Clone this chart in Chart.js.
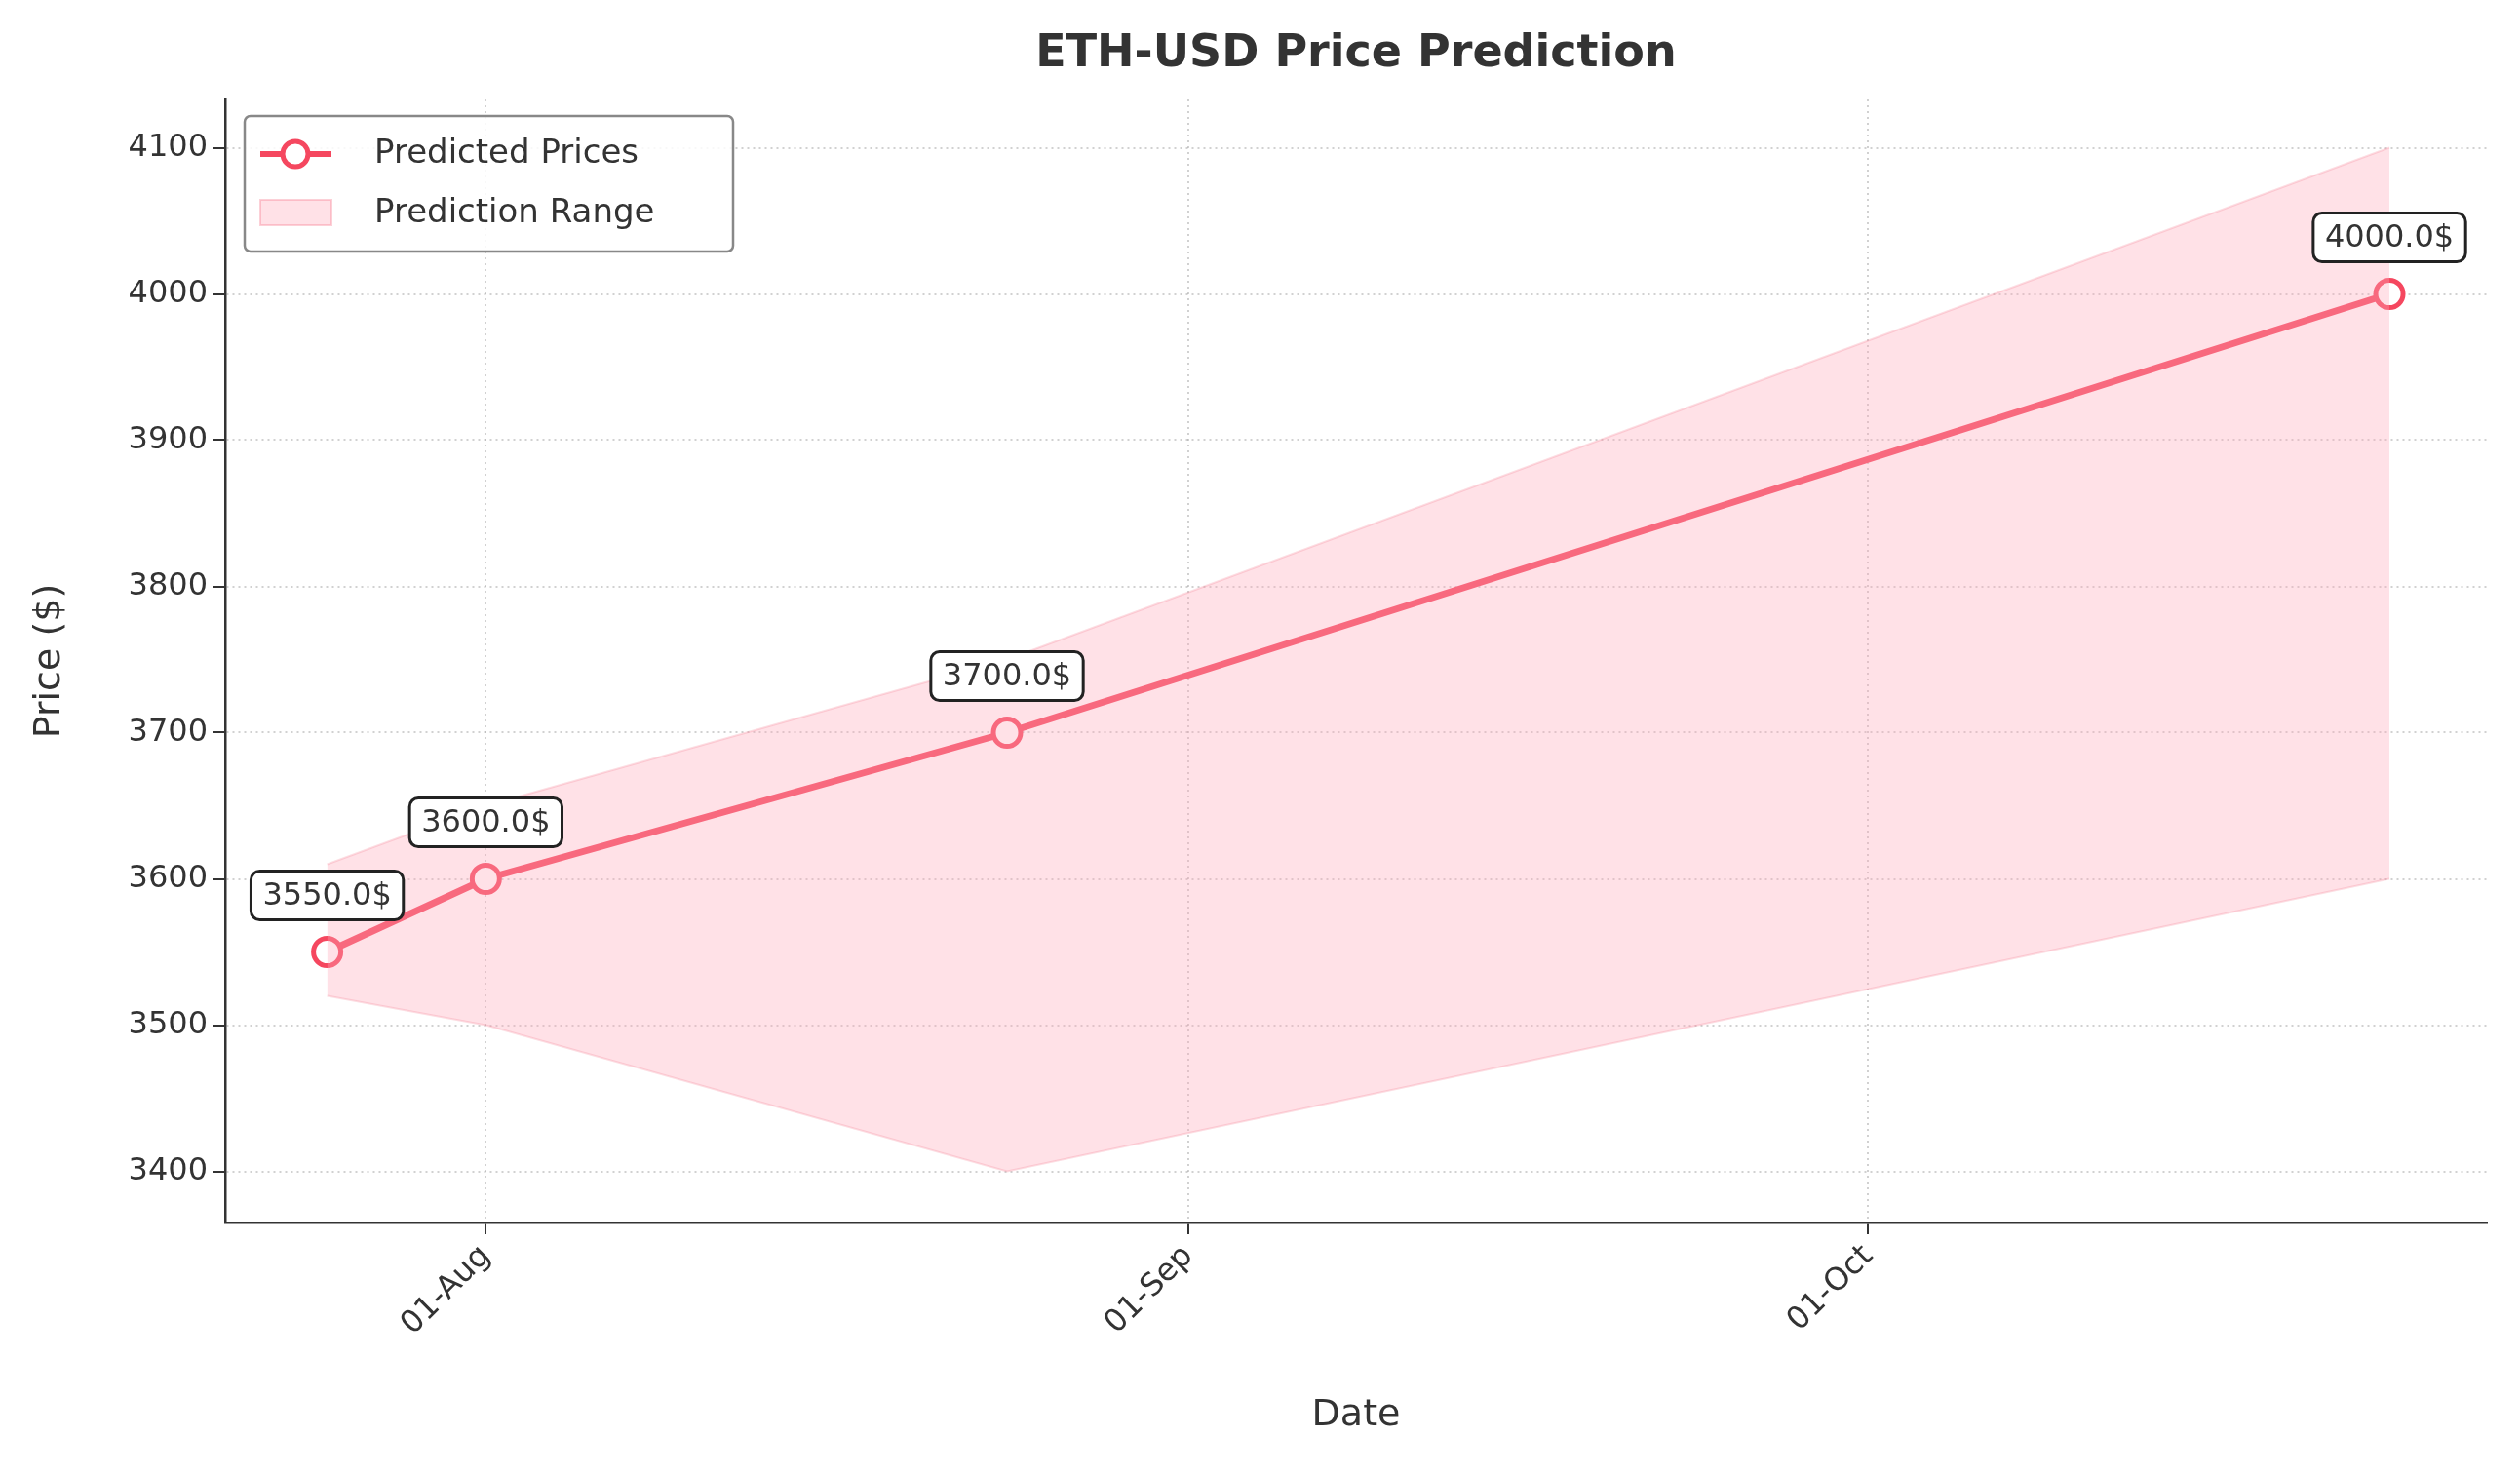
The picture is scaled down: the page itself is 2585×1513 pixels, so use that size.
<!DOCTYPE html>
<html>
<head>
<meta charset="utf-8">
<script src="https://cdn.jsdelivr.net/npm/chart.js@4"></script>
<style>
  html, body { margin: 0; padding: 0; background: #fff; }
  #wrap { width: 2585px; height: 1513px; }
</style>
</head>
<body>
<div id="wrap"><canvas id="c" width="2585" height="1513"></canvas></div>
<script>
// days counted from 25-Jul
const dayLabels = ['25-Jul', '01-Aug', '24-Aug', '24-Oct'];
const days = [0, 7, 30, 91];
const predicted = [3550, 3600, 3700, 4000];
const upper = [3610, 3650, 3750, 4100];
const lower = [3520, 3500, 3400, 3600];
const tickDays = [7, 38, 68];
const tickLabels = ['01-Aug', '01-Sep', '01-Oct'];
const priceTicks = [3400, 3500, 3600, 3700, 3800, 3900, 4000, 4100];

const RED = '#f5475f';
const FONT = '"DejaVu Sans", sans-serif';
const TXT = '#333333';

const pts = (vals) => days.map((d, i) => ({ x: d, y: vals[i] }));

const extras = {
  id: 'extras',
  afterDatasetsDraw(chart) {
    const { ctx } = chart;
    const meta = chart.getDatasetMeta(2);
    ctx.save();
    ctx.font = '32px ' + FONT;
    ctx.textAlign = 'center';
    ctx.textBaseline = 'middle';
    meta.data.forEach((p, i) => {
      const text = predicted[i].toFixed(1) + '$';
      const w = ctx.measureText(text).width + 24;
      const h = 50;
      const cx = p.x, cy = p.y - 58;
      ctx.beginPath();
      ctx.roundRect(cx - w / 2, cy - h / 2, w, h, 9);
      ctx.fillStyle = '#fff';
      ctx.fill();
      ctx.lineWidth = 3;
      ctx.strokeStyle = '#222';
      ctx.stroke();
      ctx.fillStyle = TXT;
      ctx.fillText(text, cx, cy + 1);
    });
    ctx.restore();
  },
  afterDraw(chart) {
    const { ctx } = chart;
    ctx.save();
    ctx.fillStyle = TXT;
    ctx.font = 'bold 46px ' + FONT;
    ctx.textAlign = 'center';
    ctx.textBaseline = 'middle';
    ctx.fillText('ETH-USD Price Prediction', (chart.chartArea.left + chart.chartArea.right) / 2, 56);
    // legend
    ctx.beginPath();
    ctx.roundRect(251, 119, 501, 139, 6);
    ctx.fillStyle = 'rgba(255,255,255,0.85)';
    ctx.fill();
    ctx.lineWidth = 2.5;
    ctx.strokeStyle = '#888';
    ctx.stroke();
    ctx.strokeStyle = RED;
    ctx.lineWidth = 6;
    ctx.beginPath(); ctx.moveTo(267, 158); ctx.lineTo(340, 158); ctx.stroke();
    ctx.beginPath(); ctx.arc(303, 158, 13, 0, Math.PI * 2);
    ctx.fillStyle = '#fff'; ctx.fill(); ctx.lineWidth = 5; ctx.stroke();
    ctx.fillStyle = 'rgba(255,170,185,0.35)';
    ctx.strokeStyle = 'rgba(245,120,140,0.35)';
    ctx.lineWidth = 2;
    ctx.fillRect(267, 205, 73, 26);
    ctx.strokeRect(267, 205, 73, 26);
    ctx.fillStyle = TXT;
    ctx.font = '34px ' + FONT;
    ctx.textAlign = 'left';
    ctx.fillText('Predicted Prices', 384, 158);
    ctx.fillText('Prediction Range', 384, 219);
    ctx.restore();
  }
};

new Chart(document.getElementById('c'), {
  type: 'line',
  data: {
    datasets: [
      { data: pts(lower), borderColor: 'rgba(245,120,140,0.25)', borderWidth: 2, pointRadius: 0, fill: false, tension: 0 },
      { data: pts(upper), borderColor: 'rgba(245,120,140,0.25)', borderWidth: 2, pointRadius: 0,
        fill: '-1', backgroundColor: 'rgba(255,170,185,0.35)', tension: 0 },
      { data: pts(predicted), borderColor: RED, borderWidth: 7, pointRadius: 14, pointBorderWidth: 5,
        pointBackgroundColor: '#fff', pointBorderColor: RED, fill: false, tension: 0 }
    ]
  },
  options: {
    responsive: false,
    animation: false,
    devicePixelRatio: 1,
    layout: { padding: { top: 102, right: 34, left: 24, bottom: 34 } },
    plugins: { legend: { display: false }, tooltip: { enabled: false }, title: { display: false } },
    scales: {
      x: {
        type: 'linear', min: -4.5, max: 95.3,
        afterBuildTicks(s) { s.ticks = tickDays.map(v => ({ value: v })); },
        afterFit(s) { s.height = 225; },
        ticks: {
          callback: (v) => tickLabels[tickDays.indexOf(v)],
          color: TXT, font: { size: 32, family: FONT }, maxRotation: 45, minRotation: 45, padding: 4
        },
        grid: { color: 'rgba(0,0,0,0.18)', lineWidth: 2, tickLength: 12, tickColor: TXT },
        border: { color: TXT, width: 2.5, dash: [2, 4] },
        title: { display: true, text: 'Date', color: TXT, font: { size: 38, family: FONT }, padding: { top: 4 } }
      },
      y: {
        min: 3365, max: 4133,
        afterBuildTicks(s) { s.ticks = priceTicks.map(v => ({ value: v })); },
        afterFit(s) { s.width = 207; },
        ticks: { callback: (v) => String(v), color: TXT, font: { size: 32, family: FONT }, padding: 6 },
        grid: { color: 'rgba(0,0,0,0.18)', lineWidth: 2, tickLength: 12, tickColor: TXT },
        border: { color: TXT, width: 2.5, dash: [2, 4] },
        title: { display: true, text: 'Price ($)', color: TXT, font: { size: 38, family: FONT }, padding: { bottom: 4 } }
      }
    }
  },
  plugins: [extras]
});
</script>
</body>
</html>
